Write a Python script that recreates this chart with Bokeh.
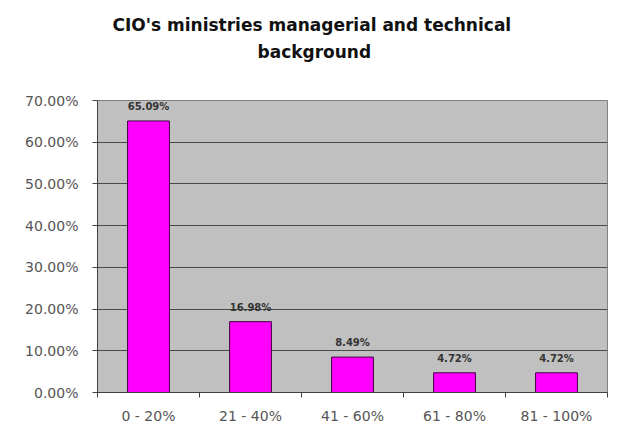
from bokeh.plotting import figure
from bokeh.models import ColumnDataSource, FixedTicker, NumeralTickFormatter, Range1d, Title
from bokeh.core.properties import value
from bokeh.embed import file_html
from bokeh.resources import INLINE

categories = ["0 - 20%", "21 - 40%", "41 - 60%", "61 - 80%", "81 - 100%"]
shares = [0.6509, 0.1698, 0.0849, 0.0472, 0.0472]
share_labels = ["65.09%", "16.98%", "8.49%", "4.72%", "4.72%"]
y_ticks = [0.0, 0.1, 0.2, 0.3, 0.4, 0.5, 0.6, 0.7]
title_lines = ["CIO's ministries managerial and technical", "background"]

xpos = [i + 0.5 for i in range(len(categories))]
src = ColumnDataSource(dict(x=xpos, top=shares, lab=share_labels))

p = figure(width=615, height=431, output_backend="svg", toolbar_location=None,
           x_range=Range1d(0, len(categories)), y_range=Range1d(0, 0.7),
           min_border_left=97, min_border_right=8, min_border_bottom=39, min_border_top=100)

# spacer between the title block and the plot frame
p.add_layout(Title(text=" ", text_font_size="1px", standoff=33), "above")
p.add_layout(Title(text=title_lines[1], align="left", offset=160,
                   text_font="DejaVu Sans", text_font_size="17px",
                   text_font_style="bold", text_color="#111111", standoff=5), "above")
p.add_layout(Title(text=title_lines[0], align="left", offset=15,
                   text_font="DejaVu Sans", text_font_size="17px",
                   text_font_style="bold", text_color="#111111", standoff=5), "above")

p.background_fill_color = "#c0c0c0"
p.border_fill_color = "white"
p.outline_line_color = "#808080"

p.vbar(x="x", top="top", width=0.41, bottom=0, source=src,
       fill_color="#ff00ff", line_color="#400040", line_width=1)

p.text(x="x", y="top", text="lab", source=src, y_offset=-9,
       text_align="center", text_baseline="bottom",
       text_font=value("DejaVu Sans"), text_font_size="10px",
       text_font_style="bold", text_color="#333333")

p.xgrid.visible = False
p.ygrid.grid_line_color = "#4a4a4a"
p.ygrid.grid_line_width = 1
p.ygrid.ticker = FixedTicker(ticks=y_ticks)

p.yaxis.ticker = FixedTicker(ticks=y_ticks)
p.yaxis.formatter = NumeralTickFormatter(format="0.00%")
p.yaxis.major_tick_out = 5
p.yaxis.major_tick_in = 0
p.yaxis.minor_tick_line_color = None
p.yaxis.axis_line_color = "#404040"
p.yaxis.major_tick_line_color = "#404040"
p.yaxis.major_label_standoff = 14
p.yaxis.major_label_text_font = "DejaVu Sans"
p.yaxis.major_label_text_font_size = "14px"
p.yaxis.major_label_text_color = "#555555"

p.xaxis.ticker = FixedTicker(ticks=xpos, minor_ticks=list(range(len(categories) + 1)))
p.xaxis.major_label_overrides = {x: c for x, c in zip(xpos, categories)}
p.xaxis.major_tick_out = 0
p.xaxis.major_tick_in = 0
p.xaxis.minor_tick_out = 5
p.xaxis.minor_tick_in = 0
p.xaxis.axis_line_color = "#404040"
p.xaxis.minor_tick_line_color = "#404040"
p.xaxis.major_label_standoff = 10
p.xaxis.major_label_text_font = "DejaVu Sans"
p.xaxis.major_label_text_font_size = "14px"
p.xaxis.major_label_text_color = "#555555"

open("out.html", "w").write(file_html(p, INLINE))
